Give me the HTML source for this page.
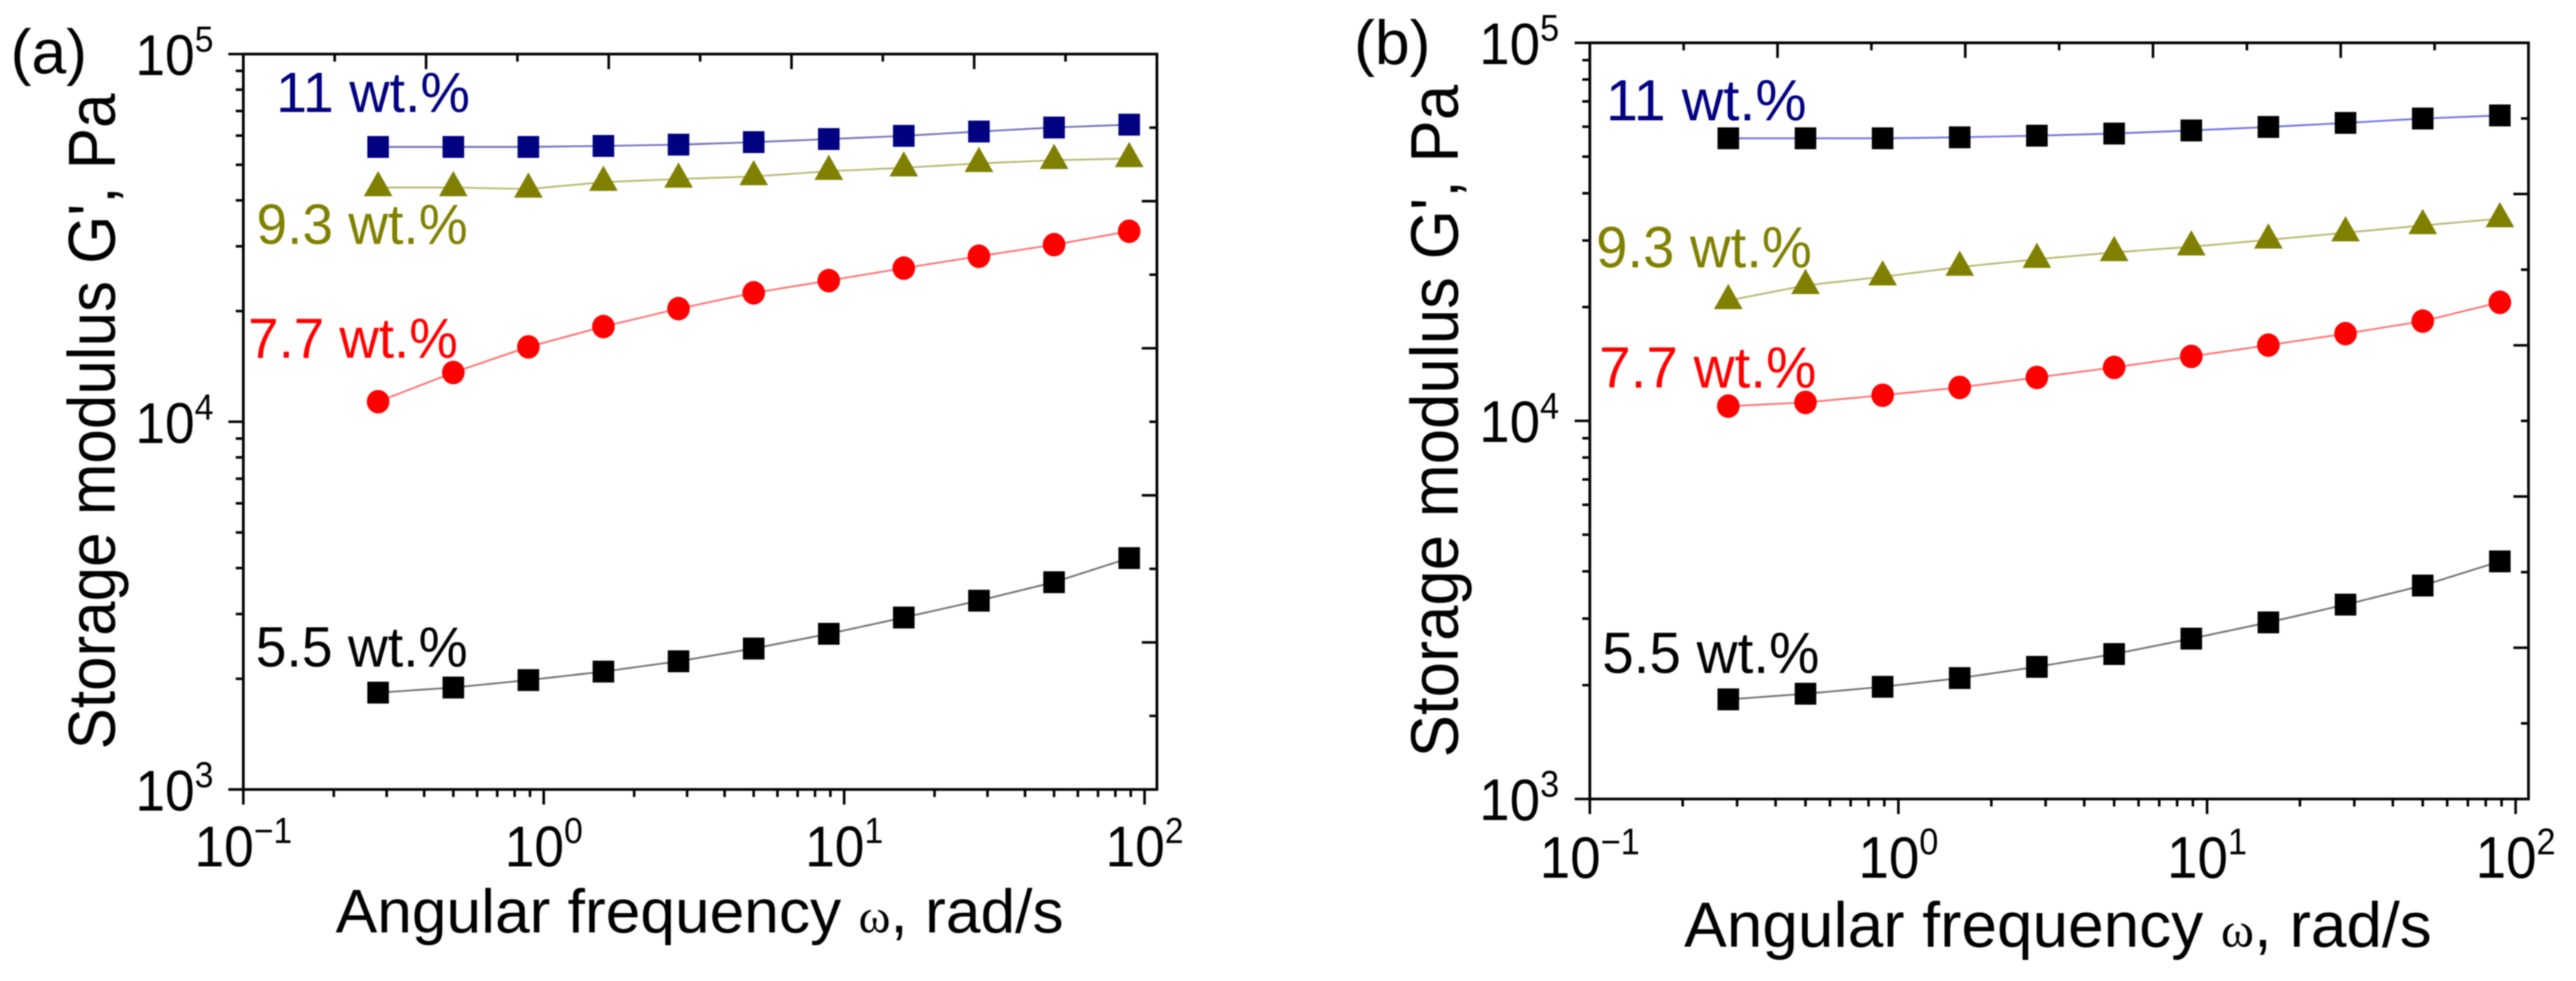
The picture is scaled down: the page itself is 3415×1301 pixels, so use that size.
<!DOCTYPE html>
<html lang="en">
<head>
<meta charset="utf-8">
<title>Storage modulus vs angular frequency</title>
<style>
html,body{margin:0;padding:0;background:#fff;width:3415px;height:1301px;overflow:hidden}
svg{display:block;filter:blur(0.7px)}
text{font-family:"Liberation Sans",sans-serif;fill:#000}
</style>
</head>
<body>
<svg id="figure" xmlns="http://www.w3.org/2000/svg" width="3415" height="1301" viewBox="0 0 3415 1301">
  <rect x="0" y="0" width="3415" height="1301" fill="#fff"/>

  <g id="panel-a">
    <text x="14" y="97" font-size="83">(a)</text>
    <text transform="translate(152 994) rotate(-90)" x="0" y="0" font-size="88" textLength="870" lengthAdjust="spacingAndGlyphs">Storage modulus G', Pa</text>
    <text x="445" y="1236.6" font-size="82" textLength="965" lengthAdjust="spacingAndGlyphs">Angular frequency <tspan font-family="Liberation Serif" font-size="64">ω</tspan>, rad/s</text>
    <text x="366" y="148.4" font-size="75" style="fill:#000080" textLength="257" lengthAdjust="spacingAndGlyphs">11 wt.%</text>
    <text x="340" y="323.4" font-size="75" style="fill:#808000" textLength="280" lengthAdjust="spacingAndGlyphs">9.3 wt.%</text>
    <text x="329" y="474.7" font-size="75" style="fill:#ff0000" textLength="278" lengthAdjust="spacingAndGlyphs">7.7 wt.%</text>
    <text x="339" y="884" font-size="75" textLength="281" lengthAdjust="spacingAndGlyphs">5.5 wt.%</text>
  </g>

  <g id="panel-b">
    <text x="1795" y="85" font-size="83">(b)</text>
    <text transform="translate(1932.5 1004.5) rotate(-90)" x="0" y="0" font-size="89" textLength="892" lengthAdjust="spacingAndGlyphs">Storage modulus G', Pa</text>
    <text x="2232.7" y="1255.3" font-size="84" textLength="991" lengthAdjust="spacingAndGlyphs">Angular frequency <tspan font-family="Liberation Serif" font-size="66">ω</tspan>, rad/s</text>
    <text x="2129" y="159.6" font-size="77" style="fill:#000080" textLength="266" lengthAdjust="spacingAndGlyphs">11 wt.%</text>
    <text x="2116" y="354.5" font-size="77" style="fill:#808000" textLength="286" lengthAdjust="spacingAndGlyphs">9.3 wt.%</text>
    <text x="2120" y="514" font-size="77" style="fill:#ff0000" textLength="288" lengthAdjust="spacingAndGlyphs">7.7 wt.%</text>
    <text x="2124" y="892.5" font-size="77" textLength="288" lengthAdjust="spacingAndGlyphs">5.5 wt.%</text>
  </g>
</svg>

<script>
// Shared data
const frequency = [0.281, 0.5, 0.889, 1.58, 2.81, 5, 8.89, 15.8, 28.1, 50, 88.9];
const xTickExponents = [-1, 0, 1, 2];
const yTickExponents = [3, 4, 5];
const minorMultiples = [2, 3, 4, 5, 6, 7, 8, 9];

// Panel (a) series, Pa
const a11wt = [55900, 55900, 55900, 56260, 56700, 57600, 58730, 59900, 61570, 63140, 64280];
const a93wt = [43350, 43350, 42950, 44830, 45730, 46450, 48010, 49060, 50440, 51420, 52030];
const a77wt = [11340, 13610, 15980, 18150, 20300, 22420, 24200, 26170, 28190, 30310, 32970];
const a55wt = [1834, 1893, 1984, 2092, 2232, 2417, 2651, 2935, 3262, 3662, 4258];

// Panel (b) series, Pa
const b11wt = [55900, 55900, 55900, 56250, 56800, 57550, 58650, 59900, 61400, 63070, 64270];
const b93wt = [20820, 22820, 24060, 25520, 26770, 27910, 28880, 30120, 31460, 32880, 34280];
const b77wt = [10940, 11190, 11690, 12260, 13030, 13850, 14810, 15860, 17010, 18360, 20590];
const b55wt = [1834, 1898, 1980, 2088, 2236, 2417, 2655, 2931, 3266, 3669, 4250];

const NS = 'http://www.w3.org/2000/svg';

function make(tag, attrs, parent) {
  const el = document.createElementNS(NS, tag);
  for (const k in attrs) el.setAttribute(k, attrs[k]);
  parent.appendChild(el);
  return el;
}

function drawTick(parent, panelId, kind, x1, y1, x2, y2) {
  const t = make('line', {x1: x1, y1: y1, x2: x2, y2: y2, stroke: '#000', 'stroke-width': 3.4}, parent);
  
  
}

function drawPanel(cfg) {
  const root = document.getElementById(cfg.id);
  const sx = v => cfg.xAtMinus1 + (Math.log10(v) + 1) * (cfg.xAt2 - cfg.xAtMinus1) / 3;
  const sy = v => cfg.yBottom - (Math.log10(v) - 3) * (cfg.yBottom - cfg.yTop) / 2;
  const left = cfg.xAtMinus1, right = cfg.xRight, top = cfg.yTop, bottom = cfg.yBottom;

  // frame
  const frame = make('rect', {x: left, y: top, width: right - left, height: bottom - top, fill: 'none', stroke: '#000', 'stroke-width': 3.6}, root);
  
  

  // bottom axis ticks
  xTickExponents.forEach(function (e) {
    const x = sx(Math.pow(10, e));
    drawTick(root, cfg.id, 'x-major', x, bottom, x, bottom + 20);
    const label = make('text', {transform: 'translate(' + x + ' ' + (bottom + cfg.xLabelDrop) + ') scale(0.93 1)', x: 0, y: 0, 'text-anchor': 'middle', 'font-size': cfg.tickFont}, root);
    
    
    const base = make('tspan', {}, label);
    base.textContent = '10';
    const sup = make('tspan', {dy: -31, 'font-size': cfg.supFont}, label);
    sup.textContent = e < 0 ? '\u2212' + Math.abs(e) : String(e);
    if (e < 2) {
      minorMultiples.forEach(function (m) {
        const mx = sx(m * Math.pow(10, e));
        drawTick(root, cfg.id, 'x-minor', mx, bottom, mx, bottom + 10);
      });
    }
  });

  // left axis ticks
  yTickExponents.forEach(function (e) {
    const y = sy(Math.pow(10, e));
    drawTick(root, cfg.id, 'y-major', left - 20, y, left, y);
    const label = make('text', {transform: 'translate(' + cfg.yLabelX + ' ' + (y + 28) + ') scale(0.93 1)', x: 0, y: 0, 'font-size': cfg.tickFont}, root);
    
    
    const base = make('tspan', {}, label);
    base.textContent = '10';
    const sup = make('tspan', {dy: -31, 'font-size': cfg.supFont}, label);
    sup.textContent = String(e);
    if (e < 5) {
      minorMultiples.forEach(function (m) {
        const my = sy(m * Math.pow(10, e));
        drawTick(root, cfg.id, 'y-minor', left - 10, my, left, my);
      });
    }
  });

  // opposite axes: evenly spaced inward ticks, alternating short and long
  for (let k = 1; k < 10; k++) {
    const x = left + k * (right - left) / 10;
    drawTick(root, cfg.id, 'top', x, top, x, top + (k % 2 ? 10 : 20));
  }
  for (let k = 1; k < 10; k++) {
    const y = top + k * (bottom - top) / 10;
    drawTick(root, cfg.id, 'right', right - (k % 2 ? 10 : 20), y, right, y);
  }

  // series
  cfg.series.forEach(function (s) {
    const pts = s.values.map(function (v, i) { return sx(frequency[i]) + ',' + sy(v); }).join(' ');
    const line = make('polyline', {points: pts, fill: 'none', stroke: s.lineColor, 'stroke-width': 2.4, 'stroke-opacity': 0.55}, root);
    
    

    s.values.forEach(function (v, i) {
      const cx = sx(frequency[i]), cy = sy(v);
      let mark;
      if (s.shape === 'square') {
        mark = make('rect', {x: cx - 14.3, y: cy - 14.5, width: 28.6, height: 29, fill: s.color}, root);
      } else if (s.shape === 'circle') {
        mark = make('ellipse', {cx: cx, cy: cy, rx: 15, ry: 15.6, fill: s.color}, root);
      } else {
        const p = [[cx, cy - 22], [cx + 19, cy + 11.5], [cx - 19, cy + 11.5]].map(function (q) { return q.join(','); }).join(' ');
        mark = make('polygon', {points: p, fill: s.color}, root);
      }
      
      
    });
  });
}

drawPanel({
  id: 'panel-a', xAtMinus1: 322.6, xAt2: 1517.3, xRight: 1533.7, yTop: 71.7, yBottom: 1047,
  tickFont: 76, supFont: 48, xLabelDrop: 101.8, yLabelX: 179.5,
  series: [
    {name: '5-5-wt', values: a55wt, color: '#000', lineColor: '#000', shape: 'square'},
    {name: '7-7-wt', values: a77wt, color: '#ff0000', lineColor: '#ff0000', shape: 'circle'},
    {name: '9-3-wt', values: a93wt, color: '#808000', lineColor: '#808000', shape: 'triangle'},
    {name: '11-wt', values: a11wt, color: '#000080', lineColor: '#000080', shape: 'square'}
  ]
});

drawPanel({
  id: 'panel-b', xAtMinus1: 2107.6, xAt2: 3335, xRight: 3352, yTop: 56.8, yBottom: 1059.6,
  tickFont: 78, supFont: 49, xLabelDrop: 104.5, yLabelX: 1961,
  series: [
    {name: '5-5-wt', values: b55wt, color: '#000', lineColor: '#000', shape: 'square'},
    {name: '7-7-wt', values: b77wt, color: '#ff0000', lineColor: '#ff0000', shape: 'circle'},
    {name: '9-3-wt', values: b93wt, color: '#808000', lineColor: '#808000', shape: 'triangle'},
    {name: '11-wt', values: b11wt, color: '#000', lineColor: '#0000cc', shape: 'square'}
  ]
});
</script>
</body>
</html>
